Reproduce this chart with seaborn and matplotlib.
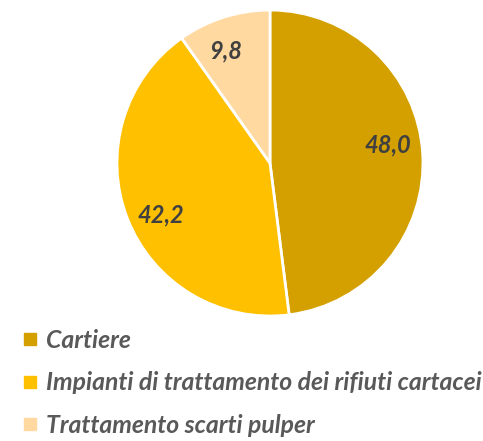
import matplotlib
matplotlib.use("Agg")
import matplotlib.pyplot as plt
import seaborn as sns
from matplotlib.lines import Line2D

# Data
categories = ["Cartiere", "Impianti di trattamento dei rifiuti cartacei", "Trattamento scarti pulper"]
values = [48.0, 42.2, 9.8]
colors = ["#D4A000", "#FFC000", "#FFD9A0"]

sns.set_theme(style="white")
plt.rcParams["font.family"] = ["Lato", "DejaVu Sans"]

fig = plt.figure(figsize=(4.83, 4.41), dpi=100)
ax = fig.add_axes([0.2422, 0.2834, 0.6335, 0.6939])

wedges, texts, autotexts = ax.pie(
    values,
    colors=colors,
    startangle=90,
    counterclock=False,
    autopct=lambda p: f"{p:.1f}".replace(".", ","),
    pctdistance=0.8,
    wedgeprops=dict(edgecolor="white", linewidth=2),
    textprops=dict(color="#404040", fontsize=17, fontweight="bold", fontstyle="italic"),
)
# small nudges to match the label placement of the original
nudges = [(-0.03, 0.07), (0.03, -0.05), (-0.05, -0.03)]
for t, (dx, dy) in zip(autotexts, nudges):
    x, y = t.get_position()
    t.set_position((x + dx, y + dy))

ax.set_xlim(-1, 1)
ax.set_ylim(-1, 1)
ax.set_aspect("equal")
ax.axis("off")

handles = [Line2D([0], [0], marker="s", linestyle="none", markersize=9,
                  markerfacecolor=c, markeredgecolor=c) for c in colors]
fig.legend(handles, categories, loc="upper left", bbox_to_anchor=(0.05, 0.255),
           frameon=False, handlelength=0.5, handletextpad=0.4, labelspacing=0.8,
           borderpad=0, borderaxespad=0,
           prop=dict(family=["Lato", "DejaVu Sans"], size=17.8, weight="bold", style="italic"),
           labelcolor="#595959")

fig.savefig("out.png", dpi=100)
